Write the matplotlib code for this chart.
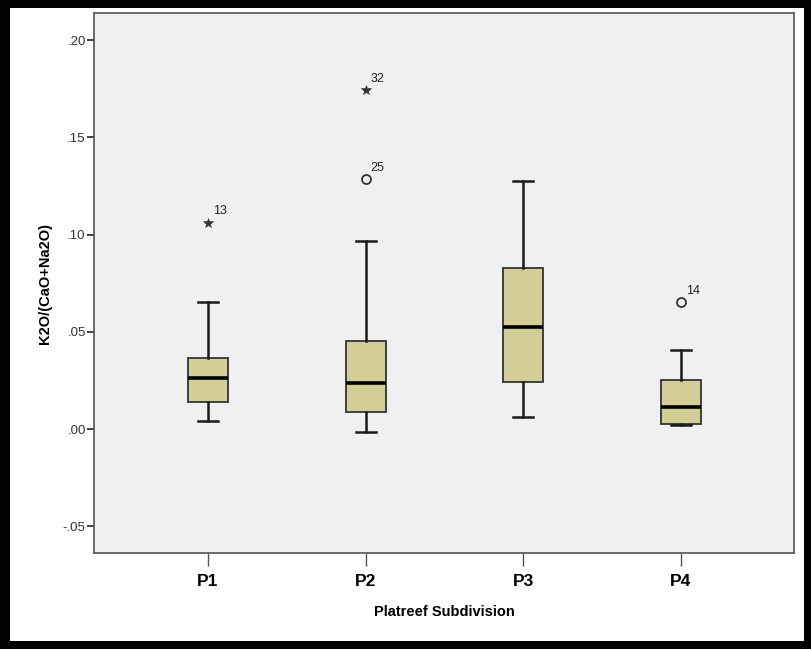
import matplotlib
matplotlib.use("Agg")
import matplotlib.pyplot as plt
from matplotlib.patches import Rectangle

plt.rcParams['font.family'] = ['Liberation Sans', 'DejaVu Sans']

# Platreef subdivisions and box summary statistics of K2O/(CaO+Na2O)
groups = ["P1", "P2", "P3", "P4"]
whisker_low = [0.0041, -0.0014, 0.0064, 0.0019]
q1 = [0.0139, 0.0088, 0.0242, 0.0024]
median = [0.0263, 0.0237, 0.0524, 0.0112]
q3 = [0.0366, 0.0454, 0.0830, 0.0252]
whisker_high = [0.0655, 0.0969, 0.1275, 0.0405]

# Outliers: (group index, value, case number, kind) - 'o' mild, '*' extreme
outlier_group = [0, 1, 1, 3]
outlier_value = [0.1062, 0.1286, 0.1744, 0.0652]
outlier_case = ["13", "25", "32", "14"]
outlier_kind = ["*", "o", "*", "o"]

y_ticks = [-0.05, 0.00, 0.05, 0.10, 0.15, 0.20]
y_tick_labels = ["-.05", ".00", ".05", ".10", ".15", ".20"]

W, H = 812, 649
fig = plt.figure(figsize=(W / 100, H / 100), dpi=100)
fig.patch.set_facecolor("black")
fig.patches.append(Rectangle((10 / W, 8 / H), (804 - 10) / W, (641 - 8) / H,
                             transform=fig.transFigure, facecolor="white",
                             edgecolor="none", zorder=-10))

ax = fig.add_axes([94 / W, 1 - 553 / H, (794 - 94) / W, (553 - 13.3) / H])
ax.set_facecolor("#F0F0F0")

positions = [1, 2, 3, 4]
stats = []
for i, g in enumerate(groups):
    stats.append(dict(label=g, whislo=whisker_low[i], q1=q1[i], med=median[i],
                      q3=q3[i], whishi=whisker_high[i], fliers=[]))

ax.bxp(stats, positions=positions, widths=0.254, capwidths=0.127,
       patch_artist=True, showfliers=False,
       boxprops=dict(facecolor="#D3CE97", edgecolor="#333333", linewidth=1.3),
       medianprops=dict(color="black", linewidth=2.6),
       whiskerprops=dict(color="#1a1a1a", linewidth=1.8),
       capprops=dict(color="#1a1a1a", linewidth=1.8))

for g, v, c, k in zip(outlier_group, outlier_value, outlier_case, outlier_kind):
    x = positions[g]
    if k == "o":
        ax.plot(x, v, marker="o", markersize=6.5, markerfacecolor="none",
                markeredgecolor="#333333", markeredgewidth=1.3, zorder=4)
    else:
        ax.plot(x, v, marker="*", markersize=7, color="#333333",
                markeredgewidth=0.4, zorder=4)
    ax.annotate(c, (x, v), xytext=(3.5, 8), textcoords="offset points",
                ha="left", va="center", fontsize=9, color="#222222")

ax.set_xlim(0.277, 4.717)
ax.set_ylim(-0.0637, 0.2138)

ax.set_yticks(y_ticks)
ax.set_yticklabels(y_tick_labels, fontsize=9.5, color="#333333")
ax.set_xticks(positions)
ax.set_xticklabels(groups, fontsize=12.5, fontweight="bold")
ax.tick_params(axis="y", length=5, width=1.2, color="#222222", pad=1)
ax.tick_params(axis="x", length=9, width=1.0, color="#555555", pad=6)

for s in ax.spines.values():
    s.set_color("#555555")
    s.set_linewidth(1.2)

ax.set_xlabel("Platreef Subdivision", fontsize=10.5, fontweight="bold", labelpad=12)
ax.set_ylabel("K2O/(CaO+Na2O)", fontsize=10.5, fontweight="bold", labelpad=8)

fig.savefig("out.png", dpi=100, facecolor=fig.get_facecolor())
